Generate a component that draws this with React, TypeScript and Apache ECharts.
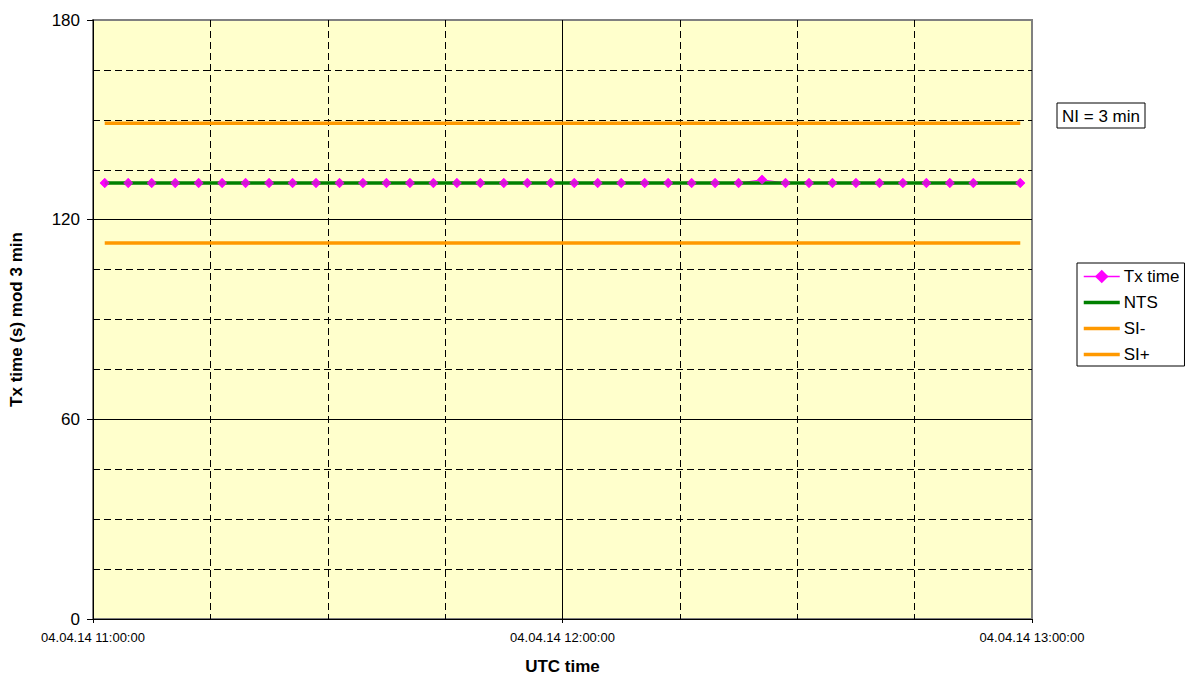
import React, { useEffect, useRef } from "react";
import * as echarts from "echarts";

const txTimes = [
  "11:01:30", "11:04:30", "11:07:30", "11:10:30", "11:13:30", "11:16:30", "11:19:30", "11:22:30",
  "11:25:30", "11:28:30", "11:31:30", "11:34:30", "11:37:30", "11:40:30", "11:43:30", "11:46:30",
  "11:49:30", "11:52:30", "11:55:30", "11:58:30", "12:01:30", "12:04:30", "12:07:30", "12:10:30",
  "12:13:30", "12:16:30", "12:19:30", "12:22:30", "12:25:30", "12:28:30", "12:31:30", "12:34:30",
  "12:37:30", "12:40:30", "12:43:30", "12:46:30", "12:49:30", "12:52:30", "12:58:30",
];
const txValues = [
  131, 131, 131, 131, 131, 131, 131, 131,
  131, 131, 131, 131, 131, 131, 131, 131,
  131, 131, 131, 131, 131, 131, 131, 131,
  131, 131, 131, 131, 132, 131, 131, 131,
  131, 131, 131, 131, 131, 131, 131,
];
const refTimes = ["11:01:30", "12:58:30"];
const ntsValues = [131, 131];
const siMinusValues = [113, 113];
const siPlusValues = [149, 149];
const xTickLabels = ["04.04.14 11:00:00", "04.04.14 12:00:00", "04.04.14 13:00:00"];
const legendNames = ["Tx time", "NTS", "SI-", "SI+"];
const noteText = "NI = 3 min";

const toMin = (t: string) => {
  const [h, m, s] = t.split(":").map(Number);
  return (h - 11) * 60 + m + s / 60;
};
const pairs = (times: string[], vals: number[]) => times.map((t, i) => [toMin(t), vals[i]]);

const FONT = '"Liberation Sans", Arial, sans-serif';
const MAGENTA = "#FF00FF";
const GREEN = "#008000";
const ORANGE = "#FF9900";

export default function App() {
  const ref = useRef<HTMLDivElement>(null);
  useEffect(() => {
    if (!ref.current) return;
    const chart = echarts.init(ref.current, undefined, { renderer: "svg" });
    const txData = pairs(txTimes, txValues);
    const plainLegend = (name: string, color: string) => ({
      name,
      itemStyle: { opacity: 0, color: "transparent", borderWidth: 0 },
      lineStyle: { width: 3.5, color },
    });
    chart.setOption({
      animation: false,
      textStyle: { fontFamily: FONT, color: "#000" },
      grid: {
        left: 92, top: 20, right: 153, bottom: 58,
        show: true, backgroundColor: "#FFFFCC", borderColor: "#808080", borderWidth: 2,
      },
      xAxis: {
        type: "value", min: 0, max: 120, interval: 60,
        name: "UTC time", nameLocation: "middle", nameGap: 39,
        nameTextStyle: { fontSize: 17, fontWeight: "bold", color: "#000", fontFamily: FONT },
        axisLine: { show: true, lineStyle: { color: "#000", width: 1 } },
        axisTick: { show: true, length: 4, lineStyle: { color: "#000" } },
        axisLabel: {
          fontSize: 13, color: "#000", margin: 12, fontFamily: FONT,
          showMinLabel: true, showMaxLabel: true,
          formatter: (v: number) => xTickLabels[Math.round(v / 60)] ?? "",
        },
        splitLine: { show: true, showMinLine: false, showMaxLine: false, lineStyle: { color: "#000", width: 1 } },
        minorTick: { show: false, splitNumber: 4 },
        minorSplitLine: { show: true, lineStyle: { color: "#000", width: 1, type: [7, 4] } },
      },
      yAxis: {
        type: "value", min: 0, max: 180, interval: 60,
        name: "Tx time (s) mod 3 min", nameLocation: "middle", nameGap: 68, nameRotate: 90,
        nameTextStyle: { fontSize: 17, fontWeight: "bold", color: "#000", fontFamily: FONT },
        axisLine: { show: true, lineStyle: { color: "#000", width: 1 } },
        axisTick: { show: true, length: 6, lineStyle: { color: "#000" } },
        axisLabel: { fontSize: 17, color: "#000", margin: 13, fontFamily: FONT },
        splitLine: { show: true, showMinLine: false, showMaxLine: false, lineStyle: { color: "#000", width: 1 } },
        minorTick: { show: false, splitNumber: 4 },
        minorSplitLine: { show: true, lineStyle: { color: "#000", width: 1, type: [7, 4] } },
      },
      legend: {
        data: [
          { name: legendNames[0], itemStyle: { color: MAGENTA }, lineStyle: { width: 1.5, color: MAGENTA } },
          plainLegend(legendNames[1], GREEN),
          plainLegend(legendNames[2], ORANGE),
          plainLegend(legendNames[3], ORANGE),
        ],
        orient: "vertical",
        left: 1077, top: 263,
        itemWidth: 36, itemHeight: 17, itemGap: 9,
        padding: [5, 5, 3, 5],
        borderColor: "#000", borderWidth: 1, backgroundColor: "#fff",
        textStyle: { fontSize: 17, color: "#000", fontFamily: FONT, padding: [0, 0, 0, -1] },
      },
      graphic: [
        {
          type: "rect",
          shape: { x: 1057, y: 103, width: 88, height: 25 },
          style: { fill: "#fff", stroke: "#000", lineWidth: 1 },
        },
        {
          type: "text",
          x: 1101, y: 116,
          style: { text: noteText, fill: "#000", fontSize: 17, fontFamily: FONT, align: "center", verticalAlign: "middle" },
        },
      ],
      series: [
        {
          name: legendNames[0], type: "line", data: txData, z: 1,
          color: MAGENTA, lineStyle: { width: 1, color: MAGENTA },
          symbol: "diamond", symbolSize: 10, itemStyle: { color: MAGENTA },
        },
        {
          name: legendNames[1], type: "line", data: pairs(refTimes, ntsValues), z: 2,
          color: GREEN, symbol: "none", lineStyle: { width: 3.5, color: GREEN },
        },
        {
          name: legendNames[2], type: "line", data: pairs(refTimes, siMinusValues), z: 2,
          color: ORANGE, symbol: "none", lineStyle: { width: 3.5, color: ORANGE },
        },
        {
          name: legendNames[3], type: "line", data: pairs(refTimes, siPlusValues), z: 2,
          color: ORANGE, symbol: "none", lineStyle: { width: 3.5, color: ORANGE },
        },
        {
          name: "", type: "scatter", data: txData, z: 5,
          symbol: "diamond", symbolSize: 10, itemStyle: { color: MAGENTA },
        },
      ],
    });
    return () => chart.dispose();
  }, []);
  return <div ref={ref} style={{ position: "absolute", left: 0, top: 0, width: 1185, height: 680 }} />;
}
